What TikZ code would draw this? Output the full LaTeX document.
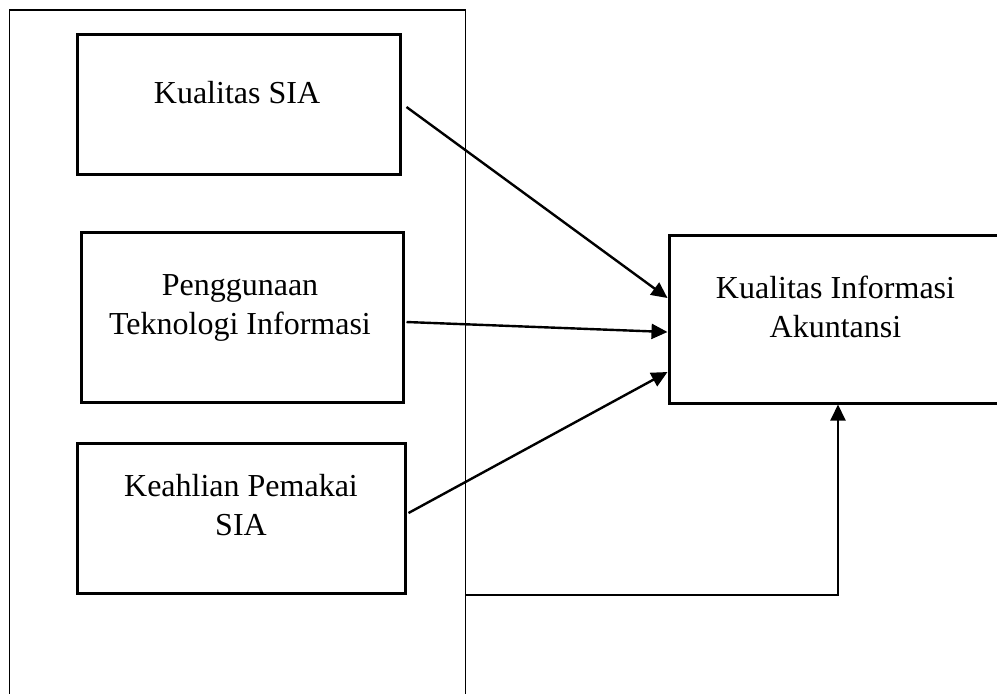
\documentclass[tikz,border=0pt]{standalone}
\usepackage{fontspec}
\setmainfont{Liberation Serif}
\usetikzlibrary{positioning,arrows.meta}

\tikzset{
  kotak/.style={draw, line width=1.5pt, inner sep=0pt},
  teks/.style={inner sep=0pt, align=center, font=\fontsize{16pt}{19.5pt}\selectfont},
  panah/.style={-{Triangle[length=8pt,width=7.5pt]}, line width=1.2pt}
}

\begin{document}
\begin{tikzpicture}[x=0.5pt,y=-0.5pt]
  \useasboundingbox (0,0) rectangle (997,693);

  % Rahmen
  \node[draw, line width=0.8pt, minimum width=228pt, minimum height=361.5pt] (rahmen) at (237.5,371.5) {};

  % Kotak
  \node[kotak, minimum width=161.5pt, minimum height=70pt] (sia) at (238.5,104) {};
  \node[kotak, minimum width=161pt, minimum height=85pt] (ti) at (242,317) {};
  \node[kotak, minimum width=164pt, minimum height=75pt] (pemakai) at (241,518) {};
  \node[kotak, minimum width=169pt, minimum height=84pt] (kia) at (838,319) {};

  % Teks
  \node[teks, below=24pt of sia.north, xshift=-0.75pt] (tsia) {Kualitas SIA};
  \node[teks, below=21.75pt of ti.north, xshift=-1pt] (tti) {Penggunaan\\Teknologi Informasi};
  \node[teks, below=16pt of pemakai.north] (tpemakai) {Keahlian Pemakai\\SIA};
  \node[teks, below=21pt of kia.north, xshift=-1.25pt] (tkia) {Kualitas Informasi\\Akuntansi};

  % Panah
  \coordinate (kaki) at (rahmen.east |- pemakai.south);
  \draw[panah] ([xshift=2.5pt,yshift=-1.5pt]sia.east) -- ([yshift=10.5pt]kia.west);
  \draw[panah] ([xshift=1pt,yshift=-2.5pt]ti.east) -- ([yshift=-6.5pt]kia.west);
  \draw[panah] ([xshift=1pt,yshift=2.5pt]pemakai.east) -- ([yshift=-26.5pt]kia.west);
  \draw[panah, line width=1pt] (kaki) -| (kia.south);

\end{tikzpicture}
\end{document}
